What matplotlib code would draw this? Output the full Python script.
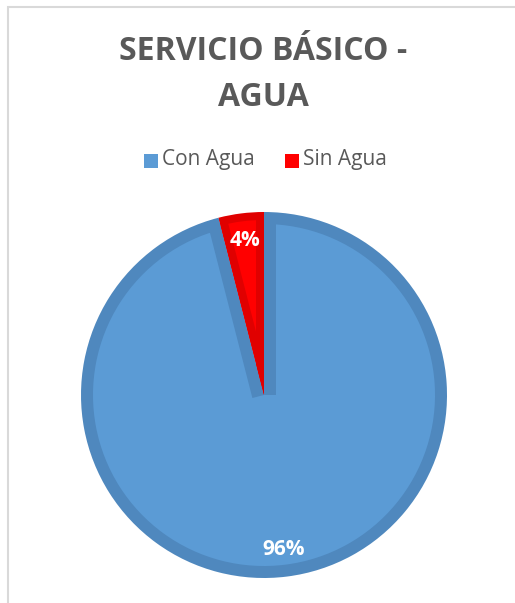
import matplotlib
matplotlib.use("Agg")
import matplotlib.pyplot as plt
from matplotlib.patches import Rectangle, Wedge, Polygon
import numpy as np

categories = ["Con Agua", "Sin Agua"]
values = [96, 4]
labels_pct = ["96%", "4%"]
light_colors = ["#5B9BD5", "#FF0000"]
dark_colors = ["#4F88BE", "#E00000"]

W, H = 515, 603
fig = plt.figure(figsize=(W / 100, H / 100), dpi=100)
fig.patch.set_facecolor("white")

# chart frame (cropped at right/bottom)
fig.add_artist(Rectangle((8 / W, -0.1), 1.2, (H - 7) / H + 0.1, transform=fig.transFigure,
                         fill=False, edgecolor="#D9D9D9", linewidth=1.5))

cx, cy, r = 264, 395, 183
ax = fig.add_axes([(cx - r) / W, (H - cy - r) / H, 2 * r / W, 2 * r / H])
wedges, texts = ax.pie(values, startangle=90, counterclock=False, colors=dark_colors,
                       radius=1.0, wedgeprops=dict(linewidth=0))

total = sum(values)
ang = 90.0
for w, v, lc, dc in zip(wedges, values, light_colors, dark_colors):
    d = (12 if v == max(values) else 8) / r  # inner border thickness
    t2 = ang
    t1 = ang - v / total * 360
    ax.add_patch(Wedge((0, 0), 1 - d, t1, t2, facecolor=lc, edgecolor="none", zorder=2))
    for th, sgn in ((t1, 1), (t2, -1)):
        u = np.array([np.cos(np.radians(th)), np.sin(np.radians(th))])
        n = sgn * np.array([-u[1], u[0]])
        pts = [(0, 0), tuple(0.995 * u), tuple(0.995 * u + d * n), tuple(d * n)]
        p = Polygon(pts, closed=True, facecolor=dc, edgecolor="none", zorder=3)
        ax.add_patch(p)
        p.set_clip_path(w.get_path(), w.get_transform())
    ang = t1

ang = 90.0
for v, lab in zip(values, labels_pct):
    mid = ang - v / total * 360 / 2
    ang -= v / total * 360
    x = 0.85 * np.cos(np.radians(mid))
    y = 0.85 * np.sin(np.radians(mid))
    ax.text(x, y, lab, ha="center", va="center", color="white", fontsize=15,
            fontweight="bold", family="Open Sans", zorder=6)
ax.set_xlim(-1, 1)
ax.set_ylim(-1, 1)
ax.set_aspect("equal")
ax.axis("off")

fig.text(263 / W, 1 - 52 / H, "SERVICIO BÁSICO -", ha="center", va="center",
         fontsize=23, fontweight="bold", color="#595959", family="Open Sans")
fig.text(263 / W, 1 - 97 / H, "AGUA", ha="center", va="center",
         fontsize=23, fontweight="bold", color="#595959", family="Open Sans")

# legend
items = [(144, "Con Agua", light_colors[0]), (285, "Sin Agua", light_colors[1])]
ly = 161
for x0, t, c in items:
    fig.add_artist(Rectangle((x0 / W, 1 - (ly + 7) / H), 14 / W, 14 / H,
                             transform=fig.transFigure, facecolor=c, edgecolor="none"))
    fig.text((x0 + 18) / W, 1 - (ly - 1) / H, t, ha="left", va="center", fontsize=15,
             color="#595959", family="Open Sans")

fig.savefig("out.png", dpi=100)
